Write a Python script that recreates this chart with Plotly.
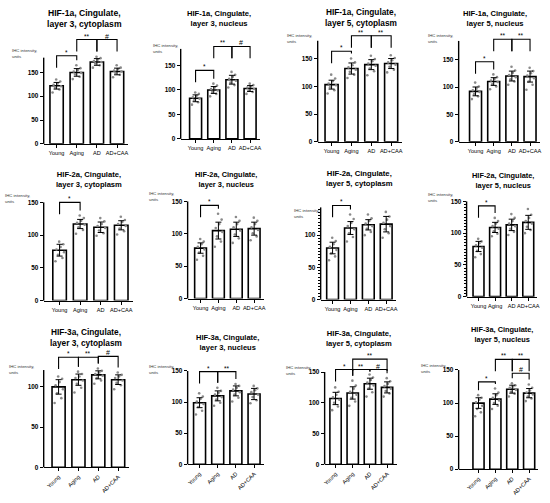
import plotly.graph_objects as go

W, H = 550, 503
groups = ["Young", "Aging", "AD", "AD+CAA"]

titles = [
    "HIF-1a, Cingulate,<br>layer 3, cytoplasm",
    "HIF-1a, Cingulate,<br>layer 3, nucleus",
    "HIF-1a, Cingulate,<br>layer 5, cytoplasm",
    "HIF-1a, Cingulate,<br>layer 5, nucleus",
    "HIF-2a, Cingulate,<br>layer 3, cytoplasm",
    "HIF-2a, Cingulate,<br>layer 3, nucleus",
    "HIF-2a, Cingulate,<br>layer 5, cytoplasm",
    "HIF-2a, Cingulate,<br>layer 5, nucleus",
    "HIF-3a, Cingulate,<br>layer 3, cytoplasm",
    "HIF-3a, Cingulate,<br>layer 3, nucleus",
    "HIF-3a, Cingulate,<br>layer 5, cytoplasm",
    "HIF-3a, Cingulate,<br>layer 5, nucleus",
]
ylabel = "IHC intensity,<br>units"

# ---------------- data ----------------
p01_means = [122, 150, 172, 152]
p01_sds = [7, 8, 7, 7]
p01_points = [[108, 114, 118, 121, 124, 127, 131, 135],
              [136, 141, 146, 149, 152, 155, 159, 165],
              [160, 165, 169, 172, 174, 177, 180, 183],
              [140, 145, 149, 152, 154, 157, 160, 165]]
p01_brackets = [(0, 1, 185, "*"), (1, 2, 219, "**"), (2, 3, 219, "#")]

p02_means = [83, 100, 121, 103]
p02_sds = [7, 7, 9, 6]
p02_points = [[70, 75, 79, 82, 85, 88, 92, 95],
              [87, 92, 96, 99, 102, 105, 109, 113],
              [105, 110, 115, 119, 123, 127, 131, 137],
              [92, 96, 99, 102, 105, 107, 110, 113]]
p02_brackets = [(0, 1, 140, "*"), (1, 2, 189, "**"), (2, 3, 189, "#")]

p03_means = [103, 132, 139, 141]
p03_sds = [8, 10, 9, 9]
p03_points = [[87, 93, 98, 102, 105, 109, 114, 121],
              [115, 121, 126, 130, 134, 138, 143, 150],
              [120, 127, 132, 137, 141, 145, 149, 155],
              [125, 130, 135, 139, 143, 147, 151, 156]]
p03_brackets = [(0, 1, 163, "*"), (1, 2, 191, "**"), (2, 3, 191, "**")]

p04_means = [92, 110, 120, 119]
p04_sds = [8, 7, 9, 10]
p04_points = [[78, 83, 87, 91, 94, 97, 101, 108],
              [96, 101, 105, 109, 112, 115, 118, 123],
              [104, 110, 114, 118, 122, 126, 130, 137],
              [95, 104, 110, 116, 121, 125, 129, 135]]
p04_brackets = [(0, 1, 146, "*"), (1, 2, 187, "**"), (2, 3, 187, "**")]

p05_means = [77, 117, 112, 115]
p05_sds = [9, 7, 8, 7]
p05_points = [[60, 65, 70, 74, 78, 82, 86, 90],
              [102, 108, 112, 116, 119, 122, 126, 130],
              [99, 103, 107, 111, 114, 117, 121, 126],
              [101, 106, 110, 114, 117, 120, 123, 128]]
p05_brackets = [(0, 1, 150, "*")]

p06_means = [78, 105, 107, 108]
p06_sds = [8, 13, 11, 10]
p06_points = [[60, 66, 71, 76, 80, 84, 88, 92],
              [80, 88, 96, 103, 109, 115, 122, 131],
              [86, 93, 99, 105, 110, 115, 120, 126],
              [90, 96, 101, 106, 110, 115, 120, 125]]
p06_brackets = [(0, 1, 144, "*")]

p07_means = [80, 111, 116, 117]
p07_sds = [9, 10, 8, 12]
p07_points = [[61, 67, 72, 77, 82, 86, 91, 96],
              [90, 97, 103, 109, 114, 119, 125, 132],
              [100, 105, 110, 114, 118, 122, 126, 132],
              [96, 103, 109, 114, 119, 124, 129, 136]]
p07_brackets = [(0, 1, 146, "*")]

p08_means = [79, 109, 113, 117]
p08_sds = [8, 8, 9, 11]
p08_points = [[62, 67, 72, 77, 81, 84, 87, 91],
              [95, 99, 103, 107, 111, 115, 119, 124],
              [97, 102, 107, 111, 115, 119, 124, 130],
              [100, 105, 110, 115, 119, 124, 129, 138]]
p08_brackets = [(0, 1, 143, "*")]

p09_means = [100, 109, 115, 109]
p09_sds = [9, 7, 5, 6]
p09_points = [[80, 86, 92, 97, 102, 106, 110, 113],
              [93, 99, 104, 108, 111, 113, 116, 119],
              [104, 108, 111, 114, 116, 118, 120, 123],
              [97, 102, 105, 108, 111, 113, 115, 118]]
p09_brackets = [(0, 1, 137, "*"), (1, 2, 137, "**"), (2, 3, 138, "#")]

p10_means = [99, 110, 118, 113]
p10_sds = [8, 8, 8, 9]
p10_points = [[80, 86, 92, 97, 101, 105, 109, 114],
              [94, 99, 104, 108, 112, 115, 118, 123],
              [101, 107, 112, 116, 120, 123, 126, 129],
              [98, 103, 108, 112, 116, 119, 122, 126]]
p10_brackets = [(0, 1, 149, "*"), (1, 2, 149, "**")]

p11_means = [107, 116, 131, 125]
p11_sds = [10, 10, 9, 9]
p11_points = [[88, 94, 100, 105, 109, 113, 118, 125],
              [95, 102, 108, 113, 118, 123, 128, 136],
              [110, 117, 123, 128, 133, 137, 141, 146],
              [110, 115, 119, 123, 127, 131, 135, 140]]
p11_brackets = [(0, 1, 154, "*"), (1, 2, 154, "**"), (2, 3, 154, "#"), (1, 3, 171, "**")]

p12_means = [100, 106, 121, 115]
p12_sds = [8, 8, 6, 7]
p12_points = [[80, 86, 91, 96, 101, 105, 108, 112],
              [91, 96, 100, 104, 108, 112, 116, 122],
              [110, 114, 117, 120, 123, 125, 127, 130],
              [103, 107, 110, 113, 116, 119, 123, 128]]
p12_brackets = [(0, 1, 132, "*"), (1, 2, 166, "**"), (2, 3, 166, "**"), (2, 3, 145, "#")]

# ---------------- layout (pixel geometry of each panel) ----------------
# axis_px, first_bar_px, step_px, zero_py, px_per_unit, y_top, axis_top,
# title_cx, title_cy, title_size, ylab_x, ylab_y, rotated, minor
geom = [
    (42, 55, 20.3, 144, 0.48, 235, 181, 83, 18, 8.6, 8, 53, False, False),
    (180, 195, 18.3, 139, 0.493, 200, 184, 219, 18, 7.6, 150, 48, False, False),
    (318, 332, 20.0, 142, 0.56, 205, 182, 362, 17, 8.3, 285, 38, False, False),
    (460, 477, 18.3, 142, 0.553, 200, 184, 497, 18, 7.6, 427, 38, False, False),
    (42, 58, 20.7, 302, 0.66, 160, 150, 88, 180, 7.6, 1, 199, False, False),
    (187, 200, 18.0, 300, 0.653, 155, 150, 226, 180, 7.4, 146, 197, False, False),
    (321, 333, 18.0, 301, 0.65, 155, 143, 360, 179, 7.7, 292, 214, False, True),
    (468, 480, 16.7, 298, 0.64, 155, 150, 505, 181, 7.4, 427, 198, False, True),
    (42, 57, 20.0, 470, 0.81, 150, 121, 85, 339, 8.3, 5, 371, True, False),
    (187, 199, 18.3, 467, 0.627, 160, 150, 227, 344, 7.5, 146, 371, True, False),
    (325, 336, 17.3, 467, 0.62, 180, 150, 360, 340, 7.6, 284, 372, True, False),
    (460, 480, 17.0, 472, 0.667, 175, 150, 504, 336, 7.4, 420, 370, True, False),
]

panels = [
    (p01_means, p01_sds, p01_points, p01_brackets),
    (p02_means, p02_sds, p02_points, p02_brackets),
    (p03_means, p03_sds, p03_points, p03_brackets),
    (p04_means, p04_sds, p04_points, p04_brackets),
    (p05_means, p05_sds, p05_points, p05_brackets),
    (p06_means, p06_sds, p06_points, p06_brackets),
    (p07_means, p07_sds, p07_points, p07_brackets),
    (p08_means, p08_sds, p08_points, p08_brackets),
    (p09_means, p09_sds, p09_points, p09_brackets),
    (p10_means, p10_sds, p10_points, p10_brackets),
    (p11_means, p11_sds, p11_points, p11_brackets),
    (p12_means, p12_sds, p12_points, p12_brackets),
]

jitter = [-0.2, 0.14, -0.08, 0.22, -0.15, 0.05, 0.18, -0.02]
FONT = "Liberation Sans, Arial, sans-serif"

fig = go.Figure()
shapes = []
annotations = []
layout_axes = {}

for n, ((means, sds, points, brackets), g) in enumerate(zip(panels, geom), start=1):
    (axis_px, x0_px, step, zero_py, k, ytop, axis_top,
     tcx, tcy, tsize, lx, ly, rotated, minor) = g
    xa = "x" if n == 1 else f"x{n}"
    ya = "y" if n == 1 else f"y{n}"
    xr0 = (axis_px - x0_px) / step
    xr1 = 3.55
    xdom = [axis_px / W, (x0_px + xr1 * step) / W]
    ydom = [1 - zero_py / H, 1 - (zero_py - ytop * k) / H]
    xs = list(range(len(groups)))

    fig.add_trace(go.Bar(
        x=xs, y=means, width=0.66, xaxis=xa, yaxis=ya,
        marker=dict(color="white", line=dict(color="black", width=1.6)),
        showlegend=False, hoverinfo="skip"))
    px_, py_ = [], []
    for i, pts in enumerate(points):
        for j, v in enumerate(pts):
            px_.append(i + jitter[j % len(jitter)])
            py_.append(v)
    fig.add_trace(go.Scatter(
        x=px_, y=py_, mode="markers", xaxis=xa, yaxis=ya,
        marker=dict(size=2.6, color="#8a8a8a"), showlegend=False, hoverinfo="skip"))
    fig.add_trace(go.Scatter(
        x=xs, y=means, mode="markers", xaxis=xa, yaxis=ya,
        marker=dict(size=1, color="rgba(0,0,0,0)"),
        error_y=dict(type="data", array=sds, color="black", thickness=1, width=3),
        showlegend=False, hoverinfo="skip"))

    layout_axes["xaxis" if n == 1 else f"xaxis{n}"] = dict(
        domain=xdom, range=[xr0, xr1], anchor=ya,
        tickvals=xs, ticktext=groups, tickangle=-45 if rotated else 0,
        ticks="outside", ticklen=3, tickwidth=1, tickcolor="black",
        showline=True, linecolor="black", linewidth=1.4,
        showgrid=False, zeroline=False,
        tickfont=dict(family=FONT, size=5.6, color="black"))
    yt = [v for v in (0, 50, 100, 150) if v <= axis_top]
    yax = dict(
        domain=ydom, range=[0, ytop], anchor=xa,
        tickvals=yt, ticks="outside", ticklen=3, tickwidth=1.2, tickcolor="black",
        showline=False, showgrid=False, zeroline=False,
        tickfont=dict(family=FONT, size=6.4, color="black", weight="bold"))
    if minor:
        yax["minor"] = dict(ticks="outside", ticklen=1.6, tickwidth=0.8, tickcolor="black",
                            tickvals=list(range(0, int(axis_top) + 1, 5)))
    layout_axes["yaxis" if n == 1 else f"yaxis{n}"] = yax

    # y axis line (ends at axis_top, like the original)
    shapes.append(dict(type="line", xref="paper", yref="paper",
                       x0=axis_px / W, x1=axis_px / W,
                       y0=ydom[0], y1=ydom[0] + axis_top * k / H,
                       line=dict(color="black", width=1.4)))

    # significance brackets
    gap = 5 / k
    maxleg = 12 / k
    for (i, j, lev, lab) in brackets:
        def leg_bottom(c):
            top = max(max(points[c]), means[c] + sds[c]) + gap
            return min(max(top, lev - maxleg), lev - 2 / k)
        bi, bj = leg_bottom(i), leg_bottom(j)
        shapes.append(dict(type="path", xref=xa, yref=ya,
                           path=f"M {i},{bi} L {i},{lev} L {j},{lev} L {j},{bj}",
                           line=dict(color="black", width=1.1)))
        annotations.append(dict(x=(i + j) / 2, y=lev, xref=xa, yref=ya, text=lab,
                                showarrow=False, yanchor="bottom", yshift=-2,
                                font=dict(family=FONT, size=6.5 if lab != "#" else 7,
                                          color="black")))

    annotations.append(dict(x=tcx / W, y=1 - tcy / H, xref="paper", yref="paper",
                            text=titles[n - 1], showarrow=False,
                            xanchor="center", yanchor="middle",
                            font=dict(family=FONT, size=tsize, color="black", weight="bold")))
    annotations.append(dict(x=lx / W, y=1 - ly / H, xref="paper", yref="paper",
                            text=ylabel, showarrow=False, align="left",
                            xanchor="left", yanchor="middle",
                            font=dict(family=FONT, size=4.3, color="#333333")))

fig.update_layout(
    width=W, height=H, margin=dict(l=0, r=0, t=0, b=0),
    paper_bgcolor="white", plot_bgcolor="white",
    shapes=shapes, annotations=annotations, showlegend=False,
    bargap=0.3, **layout_axes)

fig.write_html("out.html", config={"displayModeBar": False},
               post_script="document.body.style.margin='0';document.body.style.overflow='hidden';")
